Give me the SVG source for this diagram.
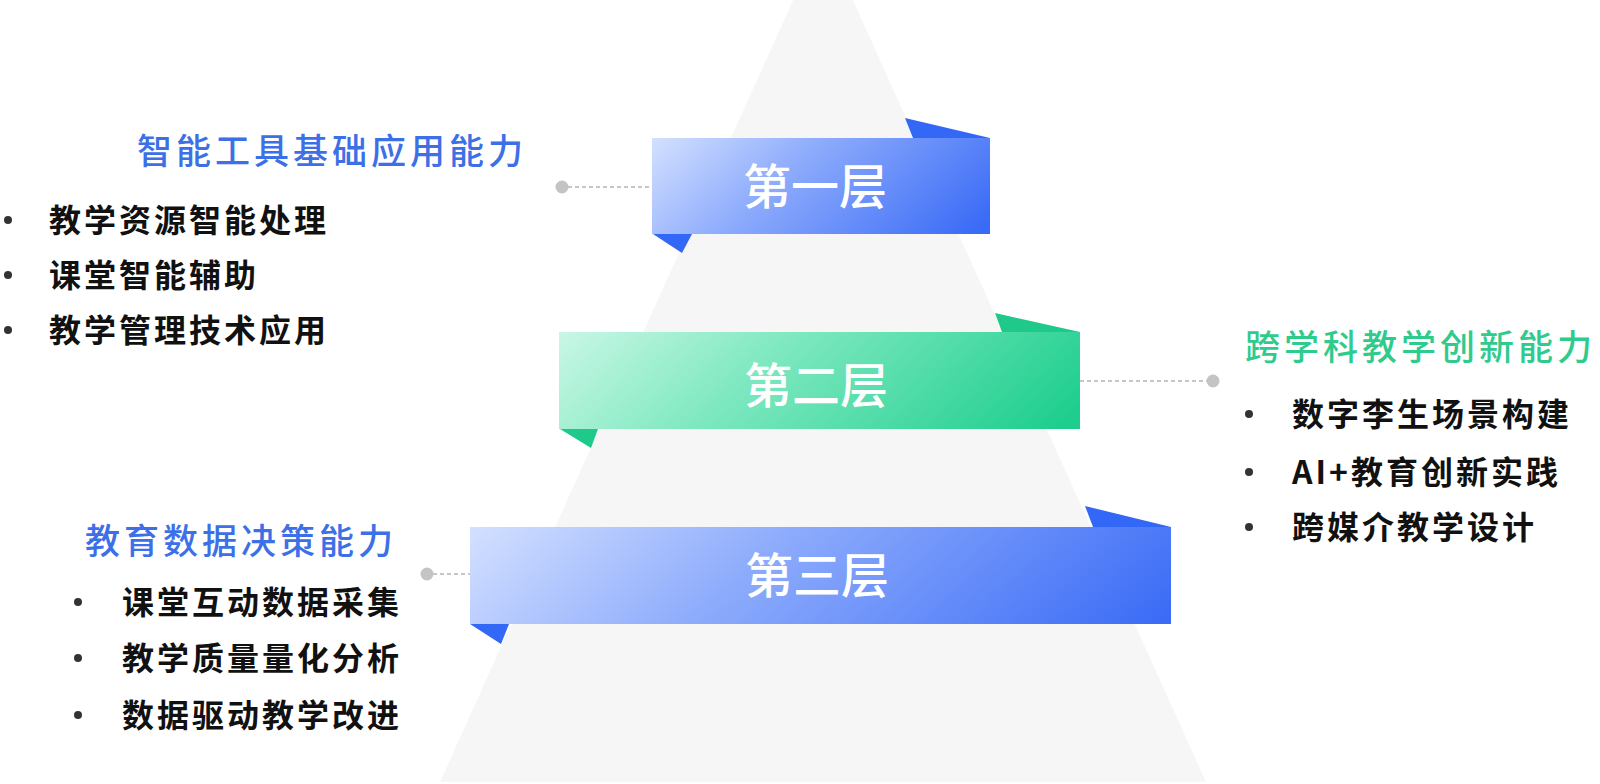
<svg xmlns="http://www.w3.org/2000/svg" width="1600" height="784" viewBox="0 0 1600 784">
  <defs>
    <linearGradient id="gBlue" x1="0" y1="0" x2="1.15" y2="0.35">
      <stop offset="0" stop-color="#d3e0ff"/>
      <stop offset="0.4" stop-color="#8eacfc"/>
      <stop offset="1" stop-color="#3a6bf6"/>
    </linearGradient>
    <linearGradient id="gBlueWide" x1="0" y1="0" x2="1.12" y2="0.17">
      <stop offset="0" stop-color="#d3e0ff"/>
      <stop offset="0.4" stop-color="#8eacfc"/>
      <stop offset="1" stop-color="#3a6bf6"/>
    </linearGradient>
    <linearGradient id="gGreen" x1="0" y1="0" x2="1.12" y2="0.23">
      <stop offset="0" stop-color="#c9f7e5"/>
      <stop offset="0.4" stop-color="#7de8c0"/>
      <stop offset="1" stop-color="#1dce8d"/>
    </linearGradient>
    <style>
      .tier { font-family: "Noto Sans CJK SC", "Noto Sans", sans-serif; font-size: 48px; font-weight: 500; fill: #ffffff; text-anchor: middle; }
      .title { font-family: "Noto Sans CJK SC", "Noto Sans", sans-serif; font-size: 35px; font-weight: 500; letter-spacing: 4px; }
      .blue { fill: #3d70e6; }
      .green { fill: #2fcb8d; }
      .item { font-family: "Noto Sans CJK SC", "Liberation Sans", sans-serif; font-size: 32px; font-weight: 700; letter-spacing: 3px; fill: #111111; }
      .bullet { fill: #333333; }
      .flapB { fill: #3268f5; }
      .flapG { fill: #1fc98a; }
      .dash { stroke: #c6c6c6; stroke-width: 2; stroke-dasharray: 4 3; fill: none; }
      .dot { fill: #c4c4c4; }
    </style>
  </defs>

  <g id="pyramid">
    <polygon points="823,-66 1206,782 440,782" fill="#f6f6f6"/>
  </g>

  <g id="connectors">
    <line class="dash" x1="568" y1="187" x2="653" y2="187"/>
    <circle class="dot" cx="562" cy="187" r="6.5"/>
    <line class="dash" x1="1080" y1="381" x2="1207" y2="381"/>
    <circle class="dot" cx="1213" cy="381" r="6.5"/>
    <line class="dash" x1="433" y1="574" x2="470" y2="574"/>
    <circle class="dot" cx="427" cy="574" r="6.5"/>
  </g>

  <g id="tier1">
    <polygon class="flapB" points="905,118 990,138 913,138"/>
    <polygon class="flapB" points="653,234 692,234 682,253"/>
    <rect x="652" y="138" width="338" height="96" fill="url(#gBlue)"/>
    <text class="tier" x="815" y="204">第一层</text>
  </g>

  <g id="tier2">
    <polygon class="flapG" points="995,313 1080,332 1002,332"/>
    <polygon class="flapG" points="560,429 598,429 591,448"/>
    <rect x="559" y="332" width="521" height="97" fill="url(#gGreen)"/>
    <text class="tier" x="816" y="403">第二层</text>
  </g>

  <g id="tier3">
    <polygon class="flapB" points="1085,506 1171,527 1093,527"/>
    <polygon class="flapB" points="470,624 509,624 501,644"/>
    <rect x="470" y="527" width="701" height="97" fill="url(#gBlueWide)"/>
    <text class="tier" x="817" y="593">第三层</text>
  </g>

  <g id="label1">
    <text class="title blue" x="137" y="164">智能工具基础应用能力</text>
    <circle class="bullet" cx="8" cy="220" r="4"/>
    <text class="item" x="49" y="232">教学资源智能处理</text>
    <circle class="bullet" cx="8" cy="275" r="4"/>
    <text class="item" x="49" y="287">课堂智能辅助</text>
    <circle class="bullet" cx="8" cy="330" r="4"/>
    <text class="item" x="49" y="342">教学管理技术应用</text>
  </g>

  <g id="label2">
    <text class="title green" x="1245" y="360">跨学科教学创新能力</text>
    <circle class="bullet" cx="1249" cy="414" r="4"/>
    <text class="item" x="1292" y="426">数字李生场景构建</text>
    <circle class="bullet" cx="1249" cy="472" r="4"/>
    <text class="item" x="1292" y="484">AI+教育创新实践</text>
    <circle class="bullet" cx="1249" cy="527" r="4"/>
    <text class="item" x="1292" y="539">跨媒介教学设计</text>
  </g>

  <g id="label3">
    <text class="title blue" x="85" y="554">教育数据决策能力</text>
    <circle class="bullet" cx="78" cy="602" r="4"/>
    <text class="item" x="122" y="614">课堂互动数据采集</text>
    <circle class="bullet" cx="78" cy="658" r="4"/>
    <text class="item" x="122" y="670">教学质量量化分析</text>
    <circle class="bullet" cx="78" cy="715" r="4"/>
    <text class="item" x="122" y="727">数据驱动教学改进</text>
  </g>
</svg>
